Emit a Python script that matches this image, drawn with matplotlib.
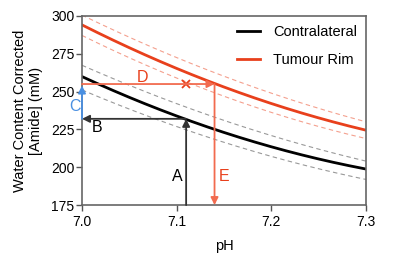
import numpy as np
import matplotlib
matplotlib.use("Agg")
import matplotlib.pyplot as plt

plt.rcParams['font.family'] = ['Liberation Sans', 'DejaVu Sans']

# pH grid and curves
ph = [7.0, 7.05, 7.1, 7.15, 7.2, 7.25, 7.3]
contra = [260, 246, 234, 223, 213.5, 205.5, 198.8]
contra_hi = [267.5, 254, 242, 231, 221, 212, 204]
contra_lo = [251, 238.5, 227, 216.5, 207, 199, 192]
rim = [294, 279, 265.5, 253, 242, 232.5, 224.6]
rim_hi = [300.5, 286, 272.5, 260, 249, 239, 230]
rim_lo = [287, 272.5, 259, 247, 236, 227, 219]

# worked example values
ph_contra = 7.11
amide_contra = 232
amide_rim = 255
ph_rim = 7.14
ph_cross = 7.11

red = '#e8401c'
pale_red = '#f26b4f'
blue = '#4a90e2'


def smooth(x, y):
    # quadratic fit through the read points for a smooth curve
    xs = np.linspace(x[0], x[-1], 200)
    c = np.polyfit(x, y, 2)
    return xs, np.polyval(c, xs)


fig = plt.figure(figsize=(4, 2.57), dpi=100)
ax = fig.add_axes([0.205, 0.202, 0.71, 0.736])

for ys, col in [(contra_hi, '#999999'), (contra_lo, '#999999'),
                (rim_hi, '#f4a08e'), (rim_lo, '#f4a08e')]:
    xs, yv = smooth(ph, ys)
    ax.plot(xs, yv, color=col, lw=0.8, linestyle=(0, (4, 3)))

xs, yv = smooth(ph, contra)
ax.plot(xs, yv, color='black', lw=2, label='Contralateral')
xs, yv = smooth(ph, rim)
ax.plot(xs, yv, color=red, lw=2, label='Tumour Rim')

# arrows
def arrow(x0, y0, x1, y1, col, lw=1.3):
    ax.annotate('', xy=(x1, y1), xytext=(x0, y0),
                arrowprops=dict(arrowstyle='-|>', color=col, lw=lw,
                                shrinkA=0, shrinkB=0, mutation_scale=11),
                annotation_clip=False)

arrow(ph_contra, 175, ph_contra, amide_contra, '#333333')
arrow(ph_contra, amide_contra, 7.0, amide_contra, '#333333')
arrow(7.0, amide_contra, 7.0, amide_rim - 1, blue)
arrow(7.0, amide_rim, ph_rim, amide_rim, pale_red)
arrow(ph_rim, amide_rim, ph_rim, 175, pale_red)
ax.plot([ph_cross], [amide_rim], marker='x', color=red, ms=6, mew=1.3)

lab = dict(fontsize=11.5, ha='center', va='center', clip_on=False)
ax.text(7.101, 194, 'A', color='black', **lab)
ax.text(7.016, 226, 'B', color='black', **lab)
ax.text(6.993, 240, 'C', color=blue, **lab)
ax.text(7.0635, 259.5, 'D', color=red, **lab)
ax.text(7.150, 194, 'E', color=red, **lab)

ax.set_xlim(7.0, 7.3)
ax.set_ylim(175, 300)
ax.set_xticks([7.0, 7.1, 7.2, 7.3])
ax.set_xticklabels(['7.0', '7.1', '7.2', '7.3'])
ax.set_yticks([175, 200, 225, 250, 275, 300])
ax.tick_params(labelsize=10, length=4, width=1, color='#555555', pad=1.5)
ax.tick_params(axis='x', pad=3)
for s in ax.spines.values():
    s.set_color('#666666')
    s.set_linewidth(1.2)
ax.set_xlabel('pH', fontsize=10.5, labelpad=7)
ax.set_ylabel('Water Content Corrected\n[Amide] (mM)', fontsize=10.5,
              labelpad=6, linespacing=1.1)

ax.legend(loc='upper right', frameon=False, fontsize=10.5, handlelength=1.6,
          handletextpad=0.9, borderaxespad=0.2, labelspacing=1.0)

fig.savefig('out.png', dpi=100)
